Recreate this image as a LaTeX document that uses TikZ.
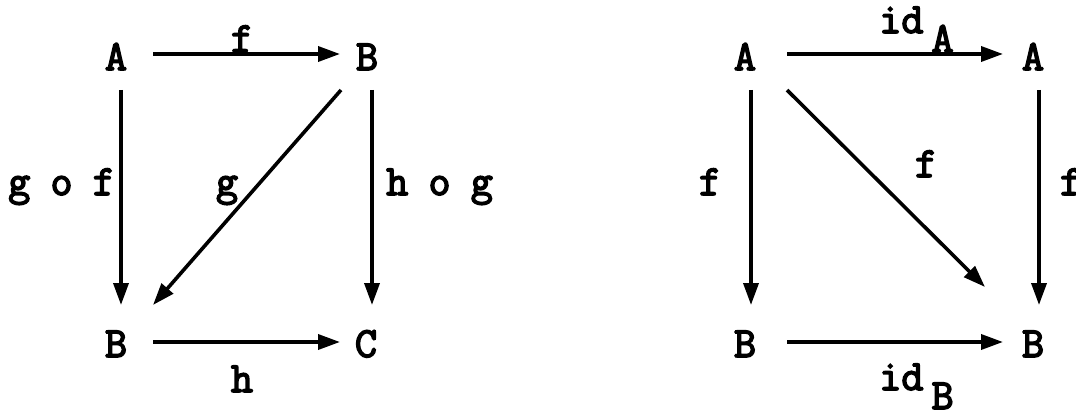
\documentclass[tikz,border=0pt]{standalone}
\usepackage{fontspec}
\newfontfamily\courb{Latin Modern Mono}[FakeBold=3.5]
\usetikzlibrary{arrows.meta}
\begin{document}
\begin{tikzpicture}[x=1pt,y=-1pt,
  lbl/.style={anchor=base,inner sep=0pt,font=\fontsize{43}{46}\selectfont\courb},
  arr/.style={line width=3.6pt,-{Triangle[length=22pt,width=15pt]}}]
\useasboundingbox (0,0) rectangle (1076,414);
\clip (0,0) rectangle (1076,414);
\fill[white] (0,0) rectangle (1076,414);
% left diagram objects
\node[lbl] (LA) at (116,70) {A};
\node[lbl] (LB1) at (367,70) {B};
\node[lbl] (LB2) at (116,357) {B};
\node[lbl] (LC) at (366,357) {C};
% left arrow end points
\coordinate (la1) at (153,54);  \coordinate (la2) at (340,54);
\coordinate (lv1) at (121,90);  \coordinate (lv2) at (121,305);
\coordinate (lr1) at (372,90);  \coordinate (lr2) at (372,305);
\coordinate (ld1) at (341,90);  \coordinate (ld2) at (153,305);
\coordinate (lb1) at (153,342); \coordinate (lb2) at (340,342);
\draw[arr] (la1) -- (la2);
\draw[arr] (lv1) -- (lv2);
\draw[arr] (lr1) -- (lr2);
\draw[arr] (ld1) -- (ld2);
\draw[arr] (lb1) -- (lb2);
% left labels
\node[lbl] (lf) at (242,52) {f};
\node[lbl,anchor=base west] (lgof) at (8,195) {g\kern-2pt\ o\kern-2pt\ f};
\node[lbl] (lg) at (227,195) {g};
\node[lbl,anchor=base west] (lhog) at (386,195) {h\kern-2pt\ o\kern-2pt\ g};
\node[lbl] (lh) at (242,392) {h};
% right diagram objects
\node[lbl] (RA1) at (745,70) {A};
\node[lbl] (RA2) at (1033,70) {A};
\node[lbl] (RB1) at (745,357) {B};
\node[lbl] (RB2) at (1033,357) {B};
\coordinate (ra1) at (787,54);  \coordinate (ra2) at (1003,54);
\coordinate (rv1) at (751,90);  \coordinate (rv2) at (751,305);
\coordinate (rr1) at (1039,90); \coordinate (rr2) at (1039,305);
\coordinate (rd1) at (787,90);  \coordinate (rd2) at (985,287);
\coordinate (rb1) at (787,342); \coordinate (rb2) at (1003,342);
\draw[arr] (ra1) -- (ra2);
\draw[arr] (rv1) -- (rv2);
\draw[arr] (rr1) -- (rr2);
\draw[arr] (rd1) -- (rd2);
\draw[arr] (rb1) -- (rb2);
% right labels
\node[lbl,anchor=base west] (rida) at (879,33) {id\kern8pt\raisebox{-19pt}{A}};
\node[lbl] (rf1) at (710,195) {f};
\node[lbl] (rf2) at (926,177) {f};
\node[lbl] (rf3) at (1071,195) {f};
\node[lbl,anchor=base west] (ridb) at (879,390) {id\kern8pt\raisebox{-19pt}{B}};
\end{tikzpicture}
\end{document}
